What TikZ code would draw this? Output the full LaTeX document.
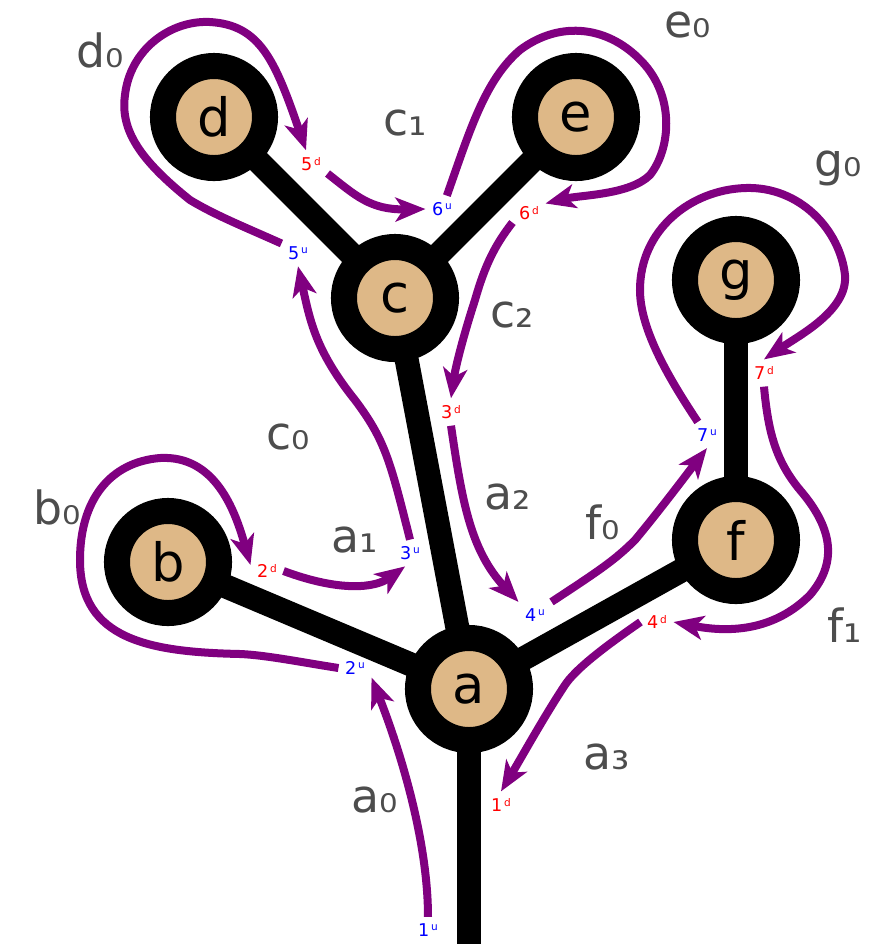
\documentclass[tikz,border=0pt]{standalone}
\usepackage{fontspec}
\setmainfont{DejaVu Sans}
\usetikzlibrary{arrows.meta,backgrounds}
\definecolor{nodetan}{HTML}{DEB887}
\definecolor{labelgray}{HTML}{4D4D4D}
\definecolor{tourpurple}{HTML}{800080}
\newcommand{\tiptag}[1]{\raisebox{0.6ex}{\fontsize{3}{3}\selectfont\,#1}}
\tikzset{
  vertex/.style={circle, draw=black, fill=nodetan, line width=0.26cm,
    minimum size=1.02cm, inner sep=0pt, font=\fontsize{15}{18}\selectfont},
  branch/.style={line width=0.24cm, black},
  tour/.style={line width=0.08cm, tourpurple,
    -{Stealth[length=0.3cm, width=0.24cm, inset=0.08cm]}},
  edgelbl/.style={text=labelgray, font=\fontsize{13}{15}\selectfont},
  uplbl/.style={text=blue, inner sep=0.06cm, font=\fontsize{5}{6}\selectfont},
  downlbl/.style={text=red, inner sep=0.06cm, font=\fontsize{5}{6}\selectfont}
}
\begin{document}
\begin{tikzpicture}[x=0.01cm, y=-0.01cm]
    \useasboundingbox (0,0) rectangle (892,944);

    % Cay
    \node[vertex] (a) at (469,689) {a};
    \node[vertex] (b) at (168,562) {b};
    \node[vertex] (c) at (395,298) {c};
    \node[vertex] (d) at (214,117) {d};
    \node[vertex] (e) at (576,117) {e};
    \node[vertex] (f) at (736,540) {f};
    \node[vertex] (g) at (736,280) {g};
    \coordinate (root) at (469,944);

    \begin{scope}[on background layer]
        \draw[branch] (a.center) -- (root);
        \draw[branch] (a.center) -- (b.center);
        \draw[branch] (a.center) -- (c.center);
        \draw[branch] (a.center) -- (f.center);
        \draw[branch] (c.center) -- (d.center);
        \draw[branch] (c.center) -- (e.center);
        \draw[branch] (f.center) -- (g.center);
    \end{scope}

    % Nhan canh
    \node[edgelbl] (la0) at (375,800) {a₀};
    \node[edgelbl] (la1) at (355,540) {a₁};
    \node[edgelbl] (la2) at (508,497) {a₂};
    \node[edgelbl] (la3) at (607,757) {a₃};
    \node[edgelbl] (lb0) at (57,507) {b₀};
    \node[edgelbl] (lc0) at (288,437) {c₀};
    \node[edgelbl] (lc1) at (405,123) {c₁};
    \node[edgelbl] (lc2) at (512,315) {c₂};
    \node[edgelbl] (ld0) at (100,50) {d₀};
    \node[edgelbl] (le0) at (688,25) {e₀};
    \node[edgelbl] (lf0) at (603,522) {f₀};
    \node[edgelbl] (lf1) at (845,625) {f₁};
    \node[edgelbl] (lg0) at (838,168) {g₀};

    % Moc len / xuong
    \node[uplbl] (l1u) at (428,930) {1\tiptag{u}};
    \node[uplbl] (l2u) at (355,668) {2\tiptag{u}};
    \node[uplbl] (l3u) at (410,553) {3\tiptag{u}};
    \node[uplbl] (l4u) at (535,615) {4\tiptag{u}};
    \node[uplbl] (l5u) at (298,253) {5\tiptag{u}};
    \node[uplbl] (l6u) at (442,209) {6\tiptag{u}};
    \node[uplbl] (l7u) at (707,435) {7\tiptag{u}};
    \node[downlbl] (l1d) at (501,805) {1\tiptag{d}};
    \node[downlbl] (l2d) at (267,571) {2\tiptag{d}};
    \node[downlbl] (l3d) at (451,412) {3\tiptag{d}};
    \node[downlbl] (l4d) at (657,622) {4\tiptag{d}};
    \node[downlbl] (l5d) at (311,164) {5\tiptag{d}};
    \node[downlbl] (l6d) at (529,213) {6\tiptag{d}};
    \node[downlbl] (l7d) at (764,373) {7\tiptag{d}};

    % Duong di vong quanh cay
    \draw[tour] (l1u.north) .. controls (428,840) and (400,750) .. (l2u.-30);
    \draw[tour] (l2u.west) .. controls (300,662) and (265,655) .. (240,654)
        .. controls (150,652) and (80,640) .. (80,560)
        .. controls (80,500) and (110,462) .. (160,458)
        .. controls (215,455) and (235,510) .. (l2d.160);
    \draw[tour] (l2d.east) .. controls (340,592) and (375,588) .. (l3u.-110);
    \draw[tour] (l3u.north) .. controls (390,460) and (385,440) .. (355,400)
        .. controls (315,350) and (310,320) .. (l5u.south);
    \draw[tour] (l5u.150) .. controls (240,225) and (215,215) .. (190,200)
        .. controls (140,160) and (120,130) .. (125,95)
        .. controls (130,50) and (170,20) .. (210,22)
        .. controls (260,25) and (275,60) .. (l5d.110);
    \draw[tour] (l5d.-30) .. controls (355,195) and (370,210) .. (l6u.west);
    \draw[tour] (l6u.70) .. controls (470,130) and (485,80) .. (520,50)
        .. controls (560,20) and (610,25) .. (645,65)
        .. controls (675,100) and (670,150) .. (650,175)
        .. controls (630,195) and (580,195) .. (l6d.30);
    \draw[tour] (l6d.210) .. controls (495,245) and (485,265) .. (475,300)
        .. controls (462,340) and (455,370) .. (l3d.north);
    \draw[tour] (l3d.south) .. controls (462,500) and (470,550) .. (l4u.north west);
    \draw[tour] (l4u.north east) .. controls (600,570) and (615,560) .. (635,540)
        .. controls (660,510) and (690,470) .. (l7u.south);
    \draw[tour] (l7u.125) .. controls (670,380) and (640,330) .. (640,290)
        .. controls (640,230) and (690,190) .. (745,188)
        .. controls (800,186) and (840,230) .. (845,275)
        .. controls (848,310) and (800,335) .. (l7d.north);
    \draw[tour] (l7d.south) .. controls (768,430) and (775,460) .. (800,490)
        .. controls (830,525) and (840,560) .. (810,595)
        .. controls (780,625) and (740,635) .. (l4d.east);
    \draw[tour] (l4d.west) .. controls (600,650) and (575,670) .. (565,685)
        .. controls (545,715) and (520,760) .. (l1d.north);
\end{tikzpicture}
\end{document}
